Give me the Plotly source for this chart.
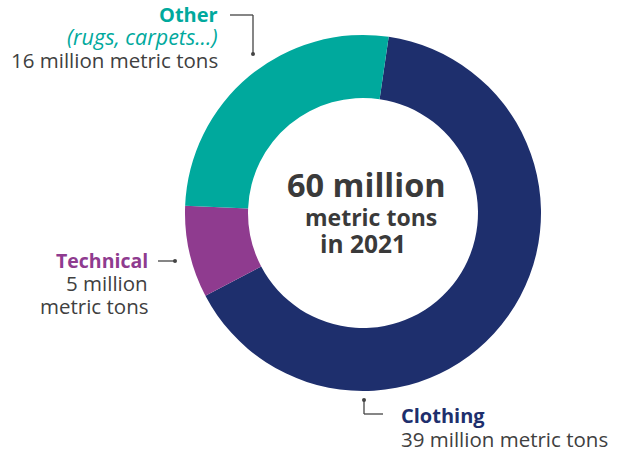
import plotly.graph_objects as go

categories = ["Clothing", "Technical", "Other"]
values = [39, 5, 16]
colors = ["#1e2f6d", "#8f3b8f", "#00a99d"]
total_label = "60 million"

W, H = 622, 454
FONT = "Open Sans"
GRAY = "#404040"
DARK = "#3a3a3a"

def px(x):
    return x / W

def py(y):
    return 1 - y / H

fig = go.Figure(go.Pie(
    labels=categories,
    values=values,
    marker=dict(colors=colors, line=dict(width=0)),
    hole=0.646,
    sort=False,
    direction="clockwise",
    rotation=8.3,
    textinfo="none",
    hoverinfo="label+value",
    domain=dict(x=[px(363 - 178), px(363 + 178)], y=[py(213 + 178), py(213 - 178)]),
    showlegend=False,
))

ann = []
def text(x, y, s, size, color, anchor, bold=False, italic=False):
    if bold:
        s = f"<b>{s}</b>"
    if italic:
        s = f"<i>{s}</i>"
    ann.append(dict(x=px(x), y=py(y), xref="paper", yref="paper", text=s,
                    showarrow=False, xanchor=anchor, yanchor="middle", borderpad=0,
                    font=dict(family=FONT, size=size, color=color)))

# center
text(366.5, 185, total_label, 32.5, DARK, "center", bold=True)
text(370.5, 217, "metric tons", 23, DARK, "center", bold=True)
text(362.5, 244, "in 2021", 24.5, DARK, "center", bold=True)

# Other
text(219, 14, "Other", 20, colors[2], "right", bold=True)
text(219, 37, "(rugs, carpets...)", 21.5, colors[2], "right", italic=True)
text(219, 60, "16 million metric tons", 20.5, GRAY, "right")

# Technical
text(149, 260, "Technical", 19.5, colors[1], "right", bold=True)
text(149, 283, "5 million", 20.5, GRAY, "right")
text(149, 306, "metric tons", 20.5, GRAY, "right")

# Clothing
text(400, 415, "Clothing", 20, colors[0], "left", bold=True)
text(400, 439, "39 million metric tons", 20.5, GRAY, "left")

fig.update_layout(annotations=ann)

shapes = []
def line(x0, y0, x1, y1):
    shapes.append(dict(type="line", xref="paper", yref="paper",
                       x0=px(x0), y0=py(y0), x1=px(x1), y1=py(y1),
                       line=dict(color="#444444", width=1.3)))
def dot(x, y, r=2.0):
    shapes.append(dict(type="circle", xref="paper", yref="paper",
                       x0=px(x - r), x1=px(x + r), y0=py(y + r), y1=py(y - r),
                       fillcolor="#444444", line=dict(width=0)))

line(230, 15, 253, 15)
line(253, 15, 253, 54)
dot(253, 54)

line(158, 261, 175, 261)
dot(175, 261)

line(364, 400, 364, 414)
line(364, 414, 383, 414)
dot(364, 400)

fig.update_layout(
    shapes=shapes,
    width=W, height=H,
    margin=dict(l=0, r=0, t=0, b=0),
    paper_bgcolor="white",
    plot_bgcolor="white",
)

fig.write_html("out.html", config={"displayModeBar": False},
               post_script="document.body.style.margin='0px';")
